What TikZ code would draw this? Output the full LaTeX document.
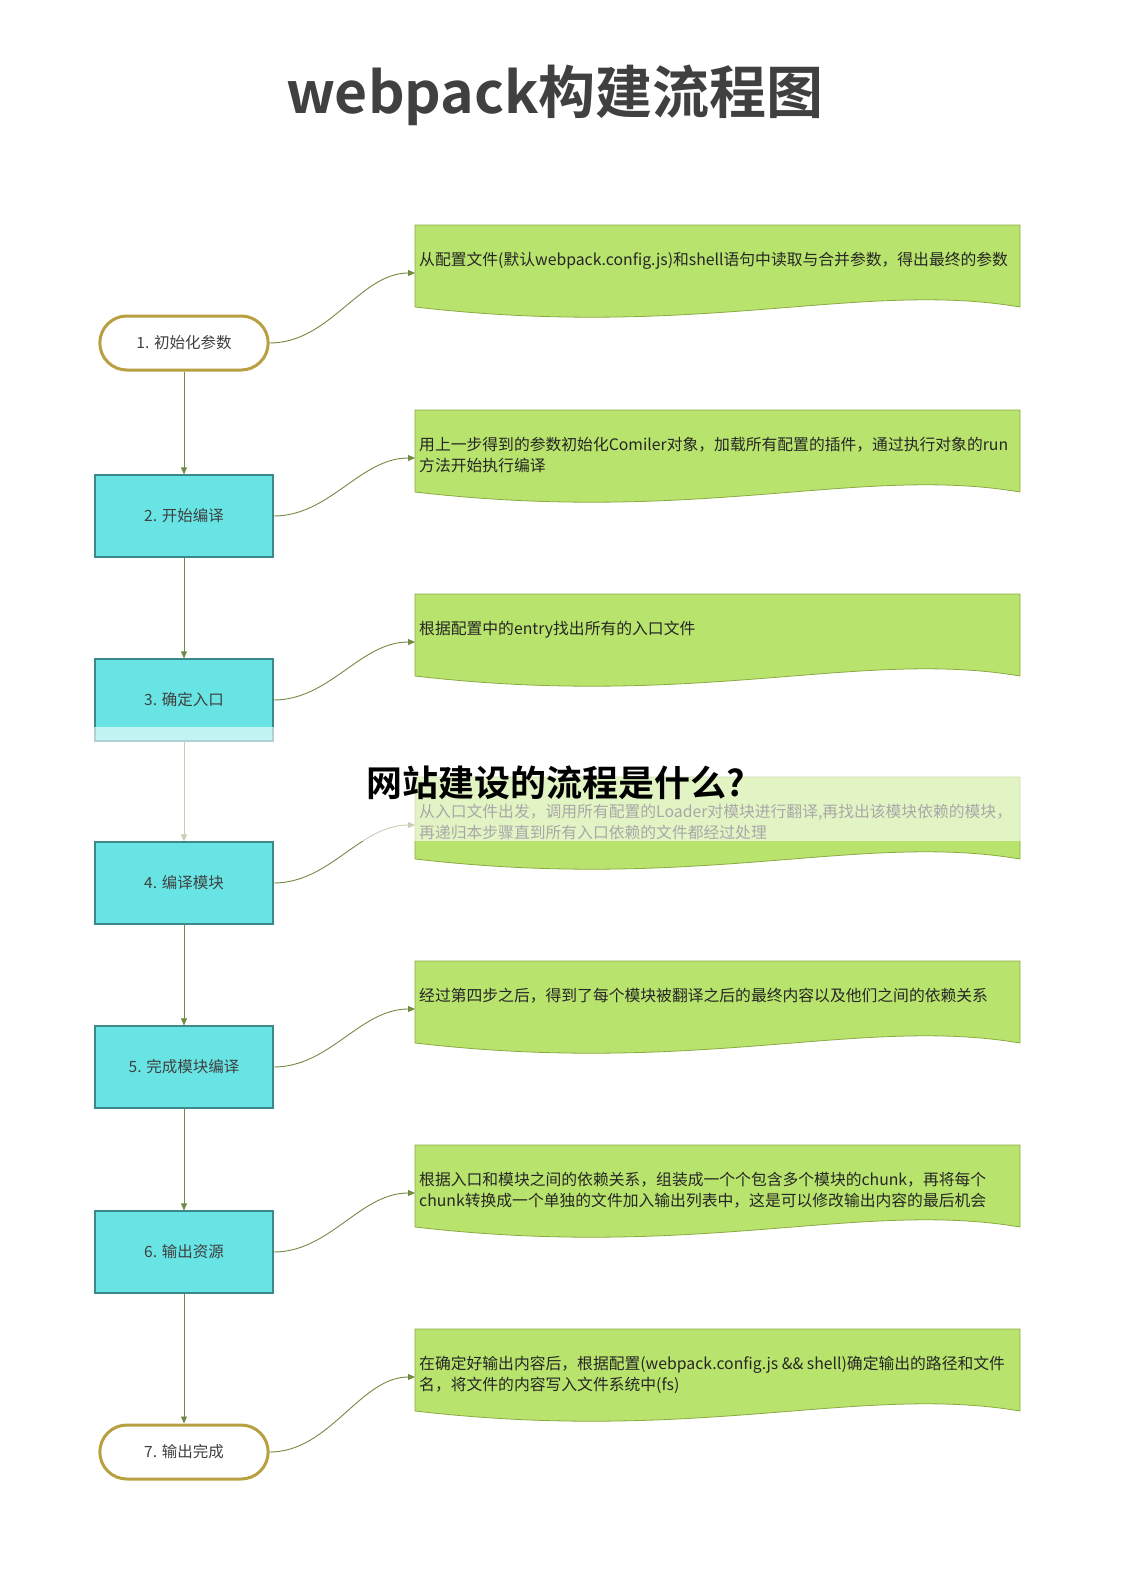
\documentclass[tikz,border=0pt]{standalone}
\usepackage{fontspec}
\setmainfont{Noto Sans CJK SC}
\newfontfamily\cjk{Noto Sans CJK SC}
\newfontfamily\cjkb{Noto Sans CJK SC Bold}
\usetikzlibrary{arrows.meta,shapes.misc}
\definecolor{docg}{HTML}{B8E36C}
\definecolor{docb}{HTML}{8CAA44}
\definecolor{cy}{HTML}{68E4E4}
\definecolor{cyb}{HTML}{3A8A8C}
\definecolor{term}{HTML}{B8A040}
\definecolor{conn}{HTML}{748A44}
\begin{document}
\begin{tikzpicture}[x=1pt,y=-1pt,
  stepbox/.style={draw=cyb,fill=cy,line width=1.2pt,minimum width=178pt,minimum height=82pt,inner sep=0pt,font=\fontsize{15.5}{18}\selectfont\color{black!75}},
  termbox/.style={draw=term,line width=3pt,fill=white,rounded rectangle,minimum width=175pt,minimum height=54pt,font=\fontsize{15.5}{18}\selectfont\color{black!75}},
  conn/.style={draw=conn,line width=0.9pt,-{Triangle[length=7pt,width=6pt]}},
  dtext/.style={anchor=north west,align=left,inner sep=0pt,font=\fontsize{15.8}{21}\selectfont\color{black!85}}]
\useasboundingbox (0,0) rectangle (1123,1587);
\fill[white] (0,0) rectangle (1123,1587);
\node[font=\cjkb\fontsize{57}{62}\selectfont,text=black!75] (title) at (555,95) {webpack构建流程图};
% documents
\def\doc#1#2#3{%
  \fill[docg,draw=docb,line width=0.8pt] (415,#1) -- (1020,#1) -- (1020,#1+82)
    .. controls (860,#1+55) and (700,#1+115) .. (415,#1+82) -- cycle;
  \node[dtext] (#2) at (419,#1+27) {#3};
  \coordinate (#2a) at (415,#1+48);}
\doc{225}{d1}{从配置文件(默认webpack.config.js)和shell语句中读取与合并参数，得出最终的参数}
\doc{410}{d2}{用上一步得到的参数初始化Comiler对象，加载所有配置的插件，通过执行对象的run\\方法开始执行编译}
\doc{594}{d3}{根据配置中的entry找出所有的入口文件}
\doc{777}{d4}{从入口文件出发，调用所有配置的Loader对模块进行翻译,再找出该模块依赖的模块，\\再递归本步骤直到所有入口依赖的文件都经过处理}
\doc{961}{d5}{经过第四步之后，得到了每个模块被翻译之后的最终内容以及他们之间的依赖关系}
\doc{1145}{d6}{根据入口和模块之间的依赖关系，组装成一个个包含多个模块的chunk，再将每个\\chunk转换成一个单独的文件加入输出列表中，这是可以修改输出内容的最后机会}
\doc{1329}{d7}{在确定好输出内容后，根据配置(webpack.config.js \&\& shell)确定输出的路径和文件\\名，将文件的内容写入文件系统中(fs)}
% steps
\node[termbox] (n1) at (184,343) {1. 初始化参数};
\node[stepbox] (n2) at (184,516) {2. 开始编译};
\node[stepbox] (n3) at (184,700) {3. 确定入口};
\node[stepbox] (n4) at (184,883) {4. 编译模块};
\node[stepbox] (n5) at (184,1067) {5. 完成模块编译};
\node[stepbox] (n6) at (184,1252) {6. 输出资源};
\node[termbox] (n7) at (184,1452) {7. 输出完成};
\foreach \a/\b in {n1/n2,n2/n3,n3/n4,n4/n5,n5/n6,n6/n7} \draw[conn] (\a.south) -- (\b.north);
\foreach \i in {1,...,7} \draw[conn] (n\i.east) .. controls (330,0|-n\i.east) and (360,0|-d\i a) .. (d\i a);
% washed overlay band
\fill[white,opacity=0.6] (90,727) rectangle (1022,841);
\node[font=\cjkb\fontsize{36}{40}\selectfont,text=black] (wm) at (556,783) {网站建设的流程是什么?};
\end{tikzpicture}
\end{document}
